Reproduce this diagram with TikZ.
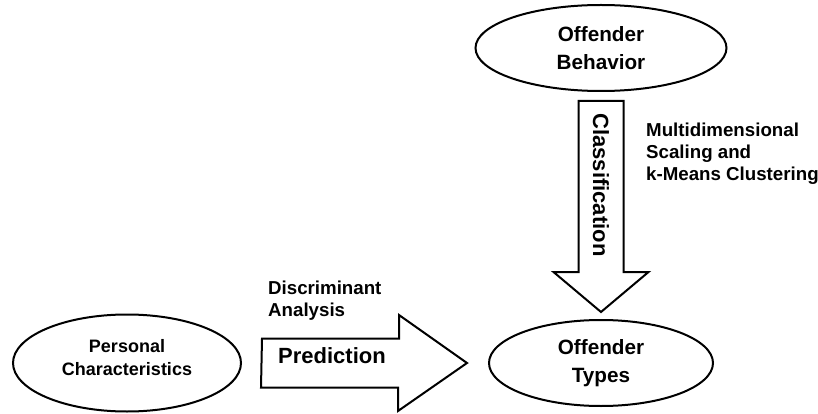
\documentclass[tikz,border=0pt]{standalone}
\usepackage{fontspec}
\setmainfont{Liberation Sans}
\usetikzlibrary{shapes.geometric}
\tikzset{
  oval/.style={ellipse, draw, line width=2pt, inner sep=0pt, align=center},
  note/.style={inner sep=0pt, align=left, font=\bfseries\fontsize{18.7}{22}\selectfont},
  bigword/.style={inner sep=0pt, font=\bfseries\fontsize{22}{26}\selectfont}
}
\begin{document}
\begin{tikzpicture}[x=1pt, y=-1pt]
    \useasboundingbox (0,0) rectangle (818,414);
    % the three groups
    \node[oval, minimum width=251, minimum height=86, font=\bfseries\fontsize{20.7}{28}\selectfont] (behavior) at (601,48) {Offender\\Behavior};
    \node[oval, minimum width=224, minimum height=86, font=\bfseries\fontsize{20.7}{28}\selectfont] (types) at (601,363) {Offender\\Types};
    \node[oval, minimum width=228, minimum height=97, text depth=12pt, font=\bfseries\fontsize{18}{23}\selectfont] (personal) at (127,363) {Personal\\Characteristics};
    % block arrows
    \draw[line width=2pt] ([yshift=-9pt]behavior.south) ++(-22.5,0) -- ++(45,0) -- ++(0,171) -- ++(25,0)
        -- ([yshift=7pt]types.north) -- ++(-47.5,-40) -- ++(25,0) -- cycle;
    \draw[line width=2pt] ([xshift=20pt]personal.east) ++(0,-24.5) -- ++(137,0) -- ++(0,-23.5)
        -- ([xshift=-21pt]types.west) -- ++(-69,48) -- ++(0,-23.5) -- ++(-137,0) -- cycle;
    % labels
    \node[bigword, rotate=-90] (classify) at (601,185) {Classification};
    \node[bigword, anchor=west] (predict) at (278,356) {Prediction};
    \node[note, anchor=west] (mds) at (646,154) {Multidimensional\\Scaling and\\k-Means Clustering};
    \node[note, anchor=west] (discrim) at (268,301) {Discriminant\\Analysis};
\end{tikzpicture}
\end{document}
